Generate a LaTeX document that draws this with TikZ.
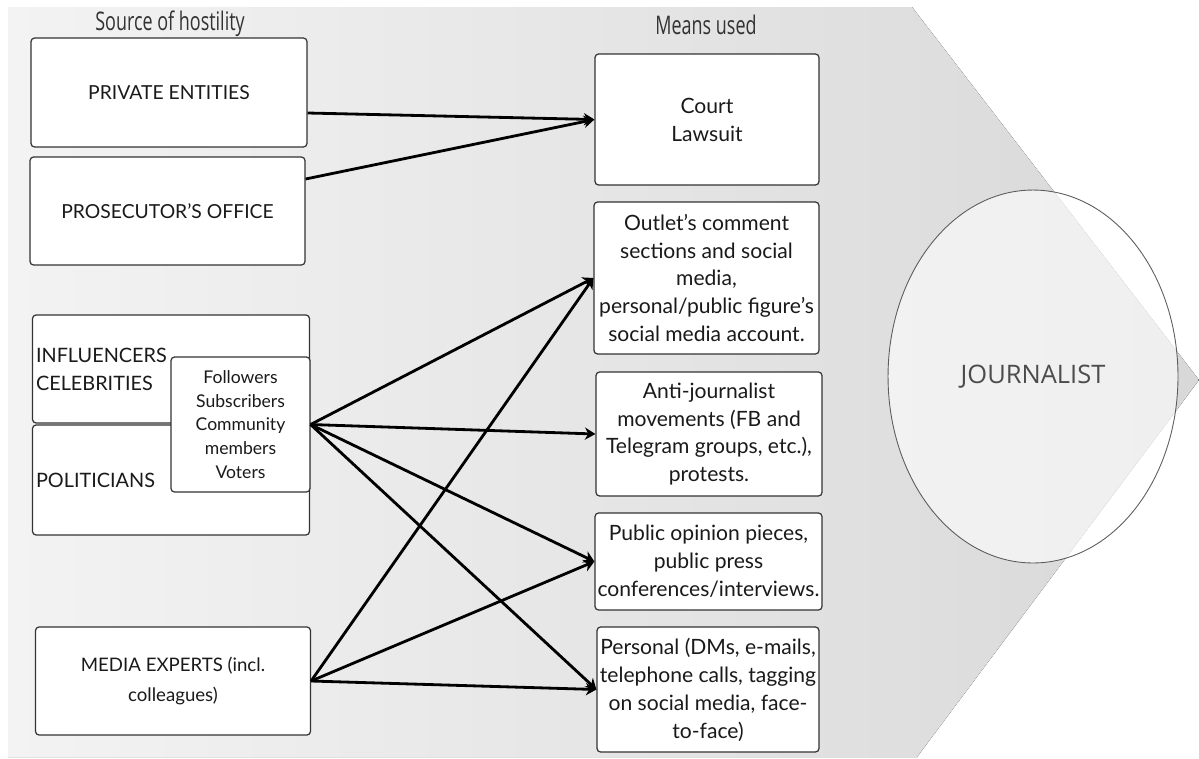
\documentclass[tikz,border=0pt]{standalone}
\usepackage{fontspec}
\setmainfont{Lato}
\newfontfamily\headfont{Open Sans}[FakeStretch=0.7]
\newfontfamily\titlefont{Open Sans}
\usetikzlibrary{arrows.meta,shapes.geometric,calc}
\definecolor{bgleft}{HTML}{F3F3F3}
\definecolor{bgright}{HTML}{D8D8D8}
\definecolor{boxline}{HTML}{333333}
\definecolor{inktext}{HTML}{1A1A1A}
\definecolor{headtext}{HTML}{333333}

\begin{document}
\begin{tikzpicture}[x=0.02cm, y=-0.02cm, >={Stealth[length=6pt,width=7pt]},
    srcbox/.style={rectangle, draw=boxline, line width=0.7pt, rounded corners=2pt, fill=white, text=inktext, align=center, font=\fontsize{11}{16}\selectfont},
    meanbox/.style={rectangle, draw=boxline, line width=0.7pt, rounded corners=2pt, fill=white, text=inktext, align=center, inner sep=1pt, font=\fontsize{12}{15.9}\selectfont},
    heading/.style={text=headtext, font=\headfont\fontsize{14.6}{16}\selectfont},
    link/.style={->, line width=1.6pt, black}]
      \useasboundingbox (0,0) rectangle (1199,758);

      % Background arrow
      \fill[left color=bgleft, right color=bgright] (8,7) -- (912,7) -- (1199,380) -- (917,757) -- (8,757) -- cycle;

      % Journalist
      \node[ellipse, draw=boxline!80, line width=0.5pt, fill=white, fill opacity=0.6, text opacity=1, text=black!70, minimum width=5.8cm, minimum height=7.46cm, font=\titlefont\fontsize{14.5}{16}\selectfont] (journalist) at (1033,376.5) {JOURNALIST};

      % Column titles
      \node[heading] (srctitle) at (170,24) {Source of hostility};
      \node[heading] (meantitle) at (706,25) {Means used};

      % Sources
      \node[srcbox, minimum width=5.52cm, minimum height=2.18cm] (private) at (169,92.5) {PRIVATE ENTITIES};
      \node[srcbox, minimum width=5.5cm, minimum height=2.16cm] (prosecutor) at (167.5,211) {PROSECUTOR'S OFFICE};
      \node[srcbox, minimum height=2.16cm, text width=5.4cm, inner xsep=0.07cm, align=left, font=\fontsize{11.3}{16}\selectfont] (influencers) at (171,369) {INFLUENCERS\\CELEBRITIES};
      \node[srcbox, minimum height=2.2cm, text width=5.4cm, inner xsep=0.07cm, align=left, font=\fontsize{11.3}{16}\selectfont] (politicians) at (171,480) {POLITICIANS};
      \node[srcbox, minimum width=2.78cm, minimum height=2.7cm, font=\fontsize{10}{13.6}\selectfont] (followers) at (240.5,424.5) {Followers\\Subscribers\\Community\\members\\Voters};
      \node[srcbox, minimum width=5.5cm, minimum height=2.16cm, font=\fontsize{10.6}{17}\selectfont] (media) at (173,681) {MEDIA EXPERTS (incl.\\colleagues)};

      % Means
      \node[meanbox, minimum width=4.48cm, minimum height=2.62cm] (court) at (707,119.5) {Court\\Lawsuit};
      \node[meanbox, minimum width=4.5cm, minimum height=3.04cm] (outlet) at (706.5,278) {Outlet's comment\\sections and social\\media,\\personal/public figure's\\social media account.};
      \node[meanbox, minimum width=4.52cm, minimum height=2.48cm] (anti) at (709,434) {Anti-journalist\\movements (FB and\\Telegram groups, etc.),\\protests.};
      \node[meanbox, minimum width=4.54cm, minimum height=1.94cm] (public) at (708.5,561.5) {Public opinion pieces,\\public press\\conferences/interviews.};
      \node[meanbox, minimum width=4.44cm, minimum height=2.5cm] (personal) at (708,689.5) {Personal (DMs, e-mails,\\telephone calls, tagging\\on social media, face-\\to-face)};

      % Links
      \draw[link] ($(private.east)+(0,20.5)$) -- (court.west);
      \draw[link] ($(prosecutor.east)+(0,-32)$) -- (court.west);
      \foreach \m in {outlet,anti,public,personal}
        \draw[link] (followers.east) -- (\m.west);
      \foreach \m in {outlet,public,personal}
        \draw[link] (media.east) -- (\m.west);

\end{tikzpicture}
\end{document}
